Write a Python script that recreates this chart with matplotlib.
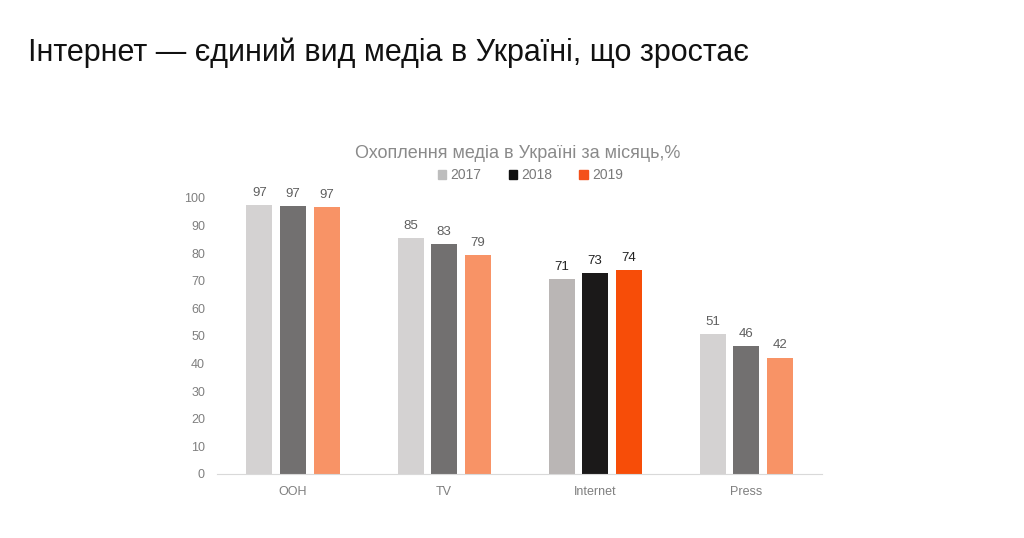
import matplotlib.pyplot as plt
from matplotlib.patches import Patch
import numpy as np

plt.rcParams['font.family'] = ['Liberation Sans', 'DejaVu Sans']

categories = ['OOH', 'TV', 'Internet', 'Press']
years = ['2017', '2018', '2019']
values = {
    '2017': [97.3, 85.4, 70.8, 50.6],
    '2018': [97.2, 83.2, 72.8, 46.2],
    '2019': [96.6, 79.2, 74.0, 42.2],
}
highlight = 'Internet'

# faded colours for ordinary groups, strong ones for the highlighted group
faded = {'2017': '#d4d2d2', '2018': '#727070', '2019': '#f89366'}
strong = {'2017': '#bab6b5', '2018': '#1b1919', '2019': '#f74d08'}
legend_colors = {'2017': '#bdbdbd', '2018': '#111111', '2019': '#f4501a'}

fig = plt.figure(figsize=(10.24, 5.38), dpi=100)
fig.text(0.027, 0.902, 'Інтернет — єдиний вид медіа в Україні, що зростає',
         fontsize=22, color='#111111', ha='left', va='center')

ax = fig.add_axes([0.2124, 0.119, 0.590, 0.513])
x = np.arange(len(categories))
step = 0.222
width = 0.172
for i, yr in enumerate(years):
    cols = [strong[yr] if c == highlight else faded[yr] for c in categories]
    pos = x + (i - 1) * step
    ax.bar(pos, values[yr], width=width, color=cols)
    for p, v, c in zip(pos, values[yr], categories):
        ax.text(p, v + 2.2, f'{v:.0f}', ha='center', va='bottom', fontsize=9.5,
                color='#222222' if c == highlight else '#5f5f5f', clip_on=False)

ax.set_xlim(-0.5, len(categories) - 0.5)
ax.set_ylim(0, 100)
ax.set_yticks(range(0, 101, 10))
ax.set_xticks(x)
ax.set_xticklabels(categories)
for s in ['top', 'right', 'left']:
    ax.spines[s].set_visible(False)
ax.spines['bottom'].set_color('#d9d9d9')
ax.tick_params(axis='both', length=0, colors='#7f7f7f', labelsize=9)
ax.tick_params(axis='y', pad=9)
ax.tick_params(axis='x', pad=9)

fig.text(0.506, 0.715, 'Охоплення медіа в Україні за місяць,%', ha='center',
         va='center', fontsize=13, color='#8a8a8a')
handles = [Patch(color=legend_colors[y], label=y) for y in years]
fig.legend(handles=handles, loc='center', bbox_to_anchor=(0.518, 0.674), ncol=3,
           frameon=False, fontsize=10, handlelength=0.6, handleheight=0.6,
           handletextpad=0.3, columnspacing=1.95, labelcolor='#7a7a7a')

fig.savefig('out.png', dpi=100, facecolor='white')
